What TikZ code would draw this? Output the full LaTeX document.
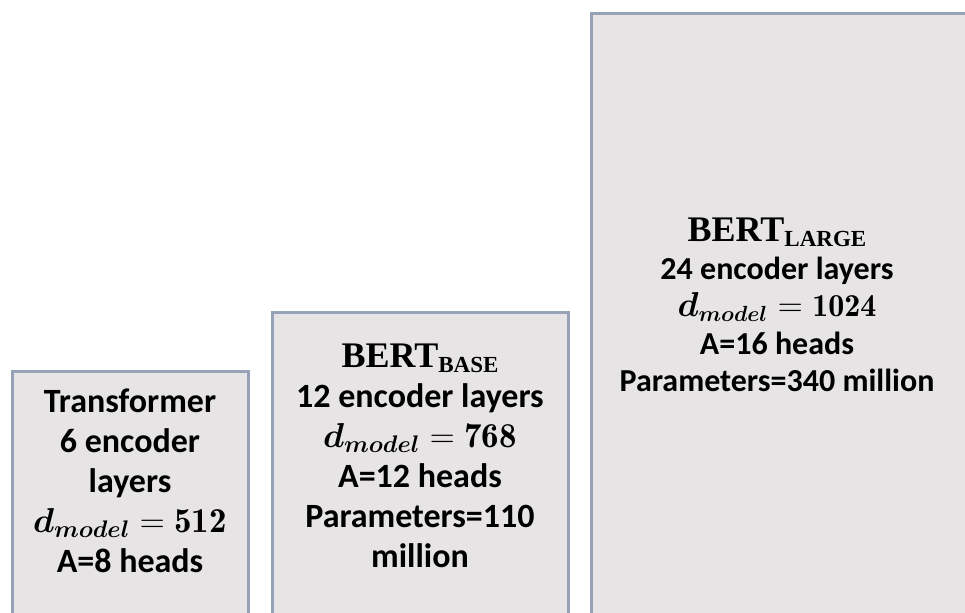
\documentclass[tikz,border=0pt]{standalone}
\usepackage{amsmath,amssymb}
\usepackage{fontspec}
\usepackage{tikz}
\usetikzlibrary{positioning}
\usepackage{xcolor}
\newfontfamily\bodyfont{Carlito}
\newfontfamily\titlefont{Liberation Serif}
\definecolor{boxline}{HTML}{97A2B8}
\definecolor{boxfill}{HTML}{E6E4E4}
\newcommand{\bert}[1]{{\titlefont\bfseries\fontsize{18}{20}\selectfont BERT\raisebox{-0.3ex}{\fontsize{11.5}{12}\selectfont #1}}}
\newcommand{\dmodel}[2][17.5]{{\fontsize{#1}{20}\selectfont$\boldsymbol{d_{model}}=\mathbf{#2}$}}

\begin{document}
\begin{tikzpicture}[x=0.5pt,y=-0.5pt,
  box/.style={draw=boxline,fill=boxfill,line width=1.5pt},
  info/.style={align=center,inner sep=0pt,font=\bodyfont\bfseries\fontsize{17}{20}\selectfont}]
\useasboundingbox (0,0) rectangle (965,613);
\clip (0,0) rectangle (965,613);
% the three model blocks
\draw[box] (12,372) rectangle (248,640);
\draw[box] (272,313) rectangle (568,640);
\draw[box] (591,14) rectangle (985,640);
\node[info] (trf) at (130,481) {Transformer\\6 encoder\\layers\\\dmodel{512}\\A=8 heads};
\node[info] (base) at (420,456) {\bert{BASE}\\12 encoder layers\\\dmodel{768}\\A=12 heads\\Parameters=110\\million};
\node[info,font=\bodyfont\bfseries\fontsize{16}{18.75}\selectfont] (large) at (777,305) {\bert{LARGE}\\24 encoder layers\\\dmodel[16]{1024}\\A=16 heads\\Parameters=340 million};
\end{tikzpicture}
\end{document}
